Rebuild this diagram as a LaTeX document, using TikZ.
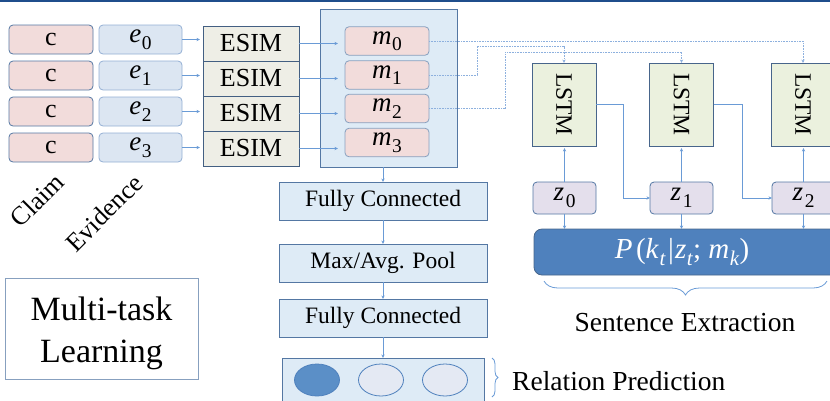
\documentclass[tikz,border=0pt]{standalone}
\usepackage{fontspec}
\setmainfont{Liberation Serif}
\usetikzlibrary{arrows.meta,decorations.pathreplacing,shapes.geometric}
\newcommand{\iv}[2]{\textit{#1}\kern0.02em\raisebox{-0.24em}{\scalebox{0.72}{#2}}}
\definecolor{topc}{HTML}{1F4E8C}
\definecolor{pinkf}{HTML}{F2DCDB}
\definecolor{bluef}{HTML}{DCE6F2}
\definecolor{esimf}{HTML}{EEEEE6}
\definecolor{contf}{HTML}{DEEBF6}
\definecolor{lstmf}{HTML}{EBF1DE}
\definecolor{zf}{HTML}{E4DFEC}
\definecolor{pf}{HTML}{4F81BD}
\definecolor{ell1}{HTML}{5B8FC7}
\definecolor{ell2}{HTML}{E4E9F3}
\definecolor{bdr}{HTML}{5477A3}
\definecolor{bdrl}{HTML}{94AFD4}
\definecolor{arrc}{HTML}{6A9BD6}
\definecolor{dotc}{HTML}{8DB0DE}
\begin{document}
\begin{tikzpicture}[x=1pt,y=-1pt,
  box/.style={draw=bdr, line width=0.8pt, inner sep=0pt, outer sep=0pt, anchor=center},
  rbox/.style={box, rounded corners=4pt},
  fA/.style={font=\fontsize{26}{30}\selectfont},
  fM/.style={font=\fontsize{27}{30}\selectfont},
  fP/.style={font=\fontsize{29}{32}\selectfont},
  fL/.style={font=\fontsize{23.5}{28}\selectfont},
  fB/.style={font=\fontsize{23.5}{28}\selectfont},
  fC/.style={font=\fontsize{27.5}{32}\selectfont},
  arr/.style={draw=arrc, line width=0.7pt, -{Stealth[length=3.5pt,width=3.2pt]}},
  dotl/.style={draw=dotc, line width=0.9pt, dash pattern=on 0.9pt off 0.7pt, -{Stealth[length=3.5pt,width=3.2pt]}},
  brc/.style={draw=arrc, line width=0.8pt, decorate},
]
\useasboundingbox (0,0) rectangle (830,400);
\clip (0,0) rectangle (830,400);
\fill[topc] (0,0) rectangle (830,1.6);

% claim / evidence rows
\foreach \i/\y in {0/39.5,1/75.5,2/111.5,3/147.5}{
  \node[rbox, fill=pinkf, minimum width=84, minimum height=29, fA] (c\i) at (51,\y) {c};
  \node[rbox, draw=bdrl, fill=bluef, minimum width=83, minimum height=29, fM] (e\i) at (140.5,\y) {\iv{e}{\i}};
}
\foreach \i/\y in {0/43.5,1/78.5,2/113.5,3/148.5}{
  \node[box, draw=bdr!80!black, fill=esimf, minimum width=96, minimum height=35, fA] (s\i) at (251,\y) {ESIM};
}
\foreach \i in {0,...,3}{
  \draw[arr, shorten >=3pt] (e\i.east) -- (e\i.east -| s\i.west);
}

% matching container
\node[box, fill=contf, minimum width=137, minimum height=158] (cont) at (388.5,88) {};
\foreach \i/\y in {0/41,1/75,2/108.5,3/142.5}{
  \node[rbox, draw=bdr!70, fill=pinkf, minimum width=84, minimum height=28.5, fM] (m\i) at (387,\y) {\iv{m}{\i}};
}
\foreach \i in {0,...,3}{
  \draw[arr, shorten >=7pt] (s\i.east) -- (s\i.east -| m\i.west);
}

% LSTM column
\foreach \i/\x in {1/564,2/681.5,3/803}{
  \node[box, draw=bdr!85!black, fill=lstmf, minimum width=64, minimum height=83] (l\i) at (\x,104.5) {};
  \node[rotate=-90, fL] (lt\i) at (l\i) {LSTM};
}
\foreach \i/\x in {0/564.5,1/681.5,2/803.5}{
  \node[rbox, fill=zf, minimum width=63, minimum height=32, fM] (z\i) at (\x,198) {\iv{z}{\kern0.06em\i}};
}
\node[box, draw=bdr!85!black, fill=pf, rounded corners=8pt, minimum width=311, minimum height=46] (P) at (689.5,252) {};
\node[fP, text=white] (Pt) at (682,252) {\textit{P}\kern0.12em(\iv{k}{\textit{t}}\kern0.08em|\kern0.04em\iv{z}{\textit{t}};\kern0.25em\iv{m}{\textit{k}})};

% dotted m -> LSTM
\coordinate (d1) at (477,46);
\coordinate (d2) at (505,52);
\draw[dotl] (m0.east) -| (l3.north);
\draw[dotl] (m1.east) -| (d1) -| (l1.north);
\draw[dotl] (m2.east) -| (d2) -| (l2.north);

% z arrows
\foreach \z/\l in {0/1,1/2,2/3}{
  \draw[arr, shorten >=2pt] (z\z.north) -- (z\z.north |- l\l.south);
  \draw[arr] (z\z.south) -- (z\z.south |- P.north);
}
\coordinate (r1) at (623,104.5);
\coordinate (r2) at (742,104.5);
\draw[arr] (l1.east) -- (r1) |- (z1.west);
\draw[arr] (l2.east) -- (r2) |- (z2.west);

% brace and label for sentence extraction
\coordinate (b1) at (827,281);
\coordinate (b2) at (544,281);
\draw[brc, decoration={brace, amplitude=14pt}] (b1) -- (b2);
\node[fC] (se) at (685,323) {Sentence Extraction};

% relation prediction column
\node[box, fill=contf, minimum width=208, minimum height=38, fB] (fc1) at (383,201) {Fully Connected};
\node[box, fill=contf, minimum width=208, minimum height=38, fB] (pool) at (383,263) {Max/Avg. Pool};
\node[box, fill=contf, minimum width=208, minimum height=38, fB] (fc2) at (383,318) {Fully Connected};
\node[box, fill=contf, minimum width=202, minimum height=46] (out) at (383,381) {};
\node[ellipse, draw=pf, line width=0.8pt, fill=ell1, minimum width=45, minimum height=32, inner sep=0pt] (o1) at (317,380) {};
\node[ellipse, draw=pf, line width=0.8pt, fill=ell2, minimum width=45, minimum height=32, inner sep=0pt] (o2) at (381,380) {};
\node[ellipse, draw=pf, line width=0.8pt, fill=ell2, minimum width=45, minimum height=32, inner sep=0pt] (o3) at (445,380) {};
\draw[arr] (fc1.north |- cont.south) -- (fc1.north);
\draw[arr] (fc1.south) -- (pool.north);
\draw[arr] (pool.south) -- (fc2.north);
\draw[arr] (fc2.south) -- (out.north);
\coordinate (rb1) at (492,358);
\coordinate (rb2) at (492,397);
\draw[brc, decoration={brace, amplitude=6pt}] (rb1) -- (rb2);
\node[fC, anchor=west, inner sep=0pt] (rp) at (512,381) {Relation Prediction};

% labels
\node[fA, rotate=45] (claim) at (37,200) {Claim};
\node[fA, rotate=45] (evid) at (104,213) {Evidence};
\node[box, draw=bdr!70, fill=white, minimum width=193, minimum height=101] (mt) at (101.5,328.5) {};
\node[font=\fontsize{34}{42}\selectfont, align=center] (mtt) at (101.5,333) {Multi-task\\Learning};
\end{tikzpicture}
\end{document}
